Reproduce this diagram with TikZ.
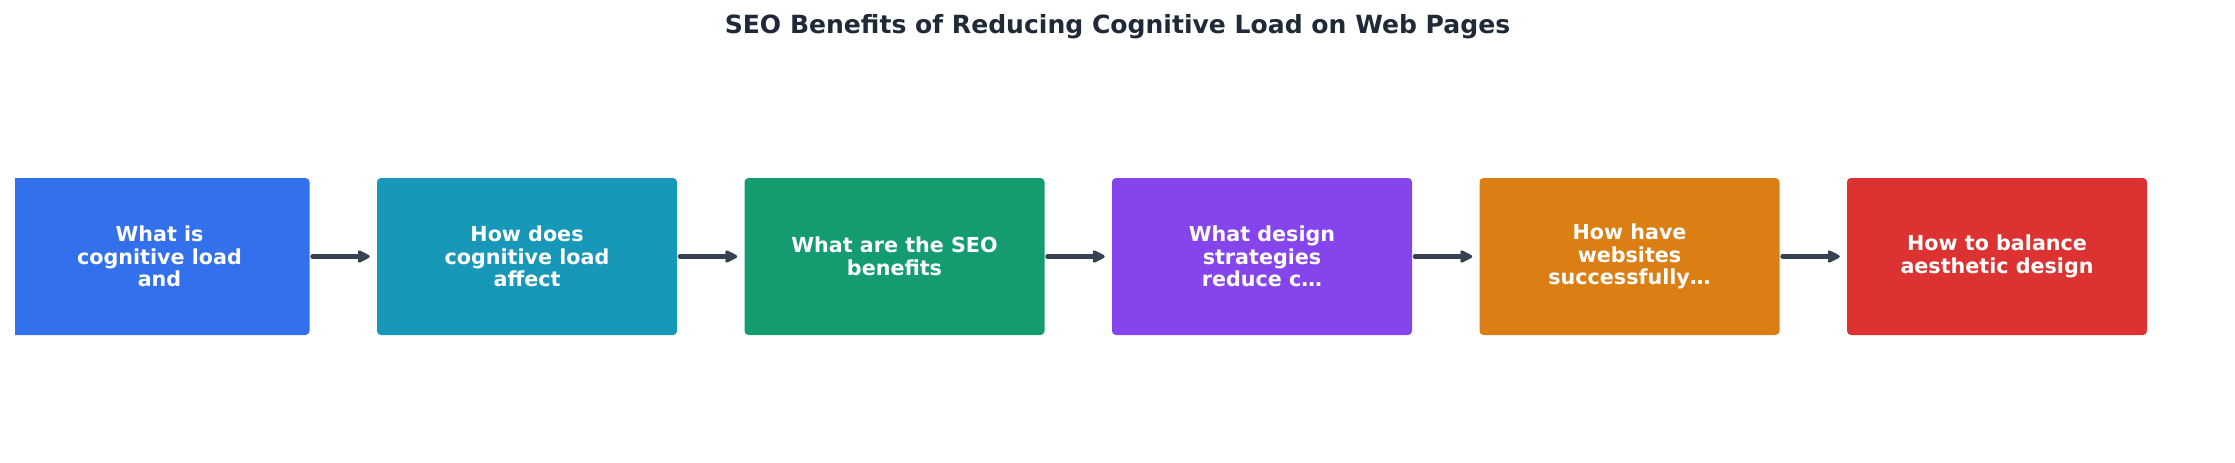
\documentclass[tikz,border=0pt]{standalone}
\usepackage{fontspec}
\setmainfont{DejaVu Sans}
\usetikzlibrary{arrows.meta,positioning}

\definecolor{qblue}{HTML}{3370EB}
\definecolor{qteal}{HTML}{1798B9}
\definecolor{qgreen}{HTML}{149C70}
\definecolor{qpurple}{HTML}{8645EC}
\definecolor{qorange}{HTML}{DB7E14}
\definecolor{qred}{HTML}{DC3232}
\definecolor{titlegray}{HTML}{1F2937}
\definecolor{arrowgray}{HTML}{374151}

\begin{document}
\begin{tikzpicture}[x=0.75pt,y=0.75pt,
  node distance=275.625pt,
  topic node/.style={rectangle,rounded corners=3pt,
  minimum width=225pt,minimum height=117.75pt,inner sep=0pt,
  text=white,align=center,font=\fontsize{15.5}{17}\selectfont\bfseries},
  flow/.style={-{Stealth[length=11pt,width=11pt,inset=1.5pt,round]},
  draw=arrowgray,line width=3.2pt,line cap=round,
  shorten <=2pt,shorten >=5.25pt}]

  \useasboundingbox (0,0) rectangle (2235,462);
  \clip (15,0) rectangle (2235,462);

  \node[font=\fontsize{18.8}{22}\selectfont\bfseries,text=titlegray,anchor=base]
    (title) at (1117.5,428.7) {SEO Benefits of Reducing Cognitive Load on Web Pages};

  \node[topic node,fill=qblue] (Q1) at (159.5,205.5) {What is\\cognitive load\\and};
  \node[topic node,fill=qteal] (Q2) [right of=Q1] {How does\\cognitive load\\affect};
  \node[topic node,fill=qgreen] (Q3) [right of=Q2] {What are the SEO\\benefits};
  \node[topic node,fill=qpurple] (Q4) [right of=Q3] {What design\\strategies\\reduce c…};
  \node[topic node,fill=qorange] (Q5) [right of=Q4] {How have\\websites\\successfully…};
  \node[topic node,fill=qred] (Q6) [right of=Q5] {How to balance\\aesthetic design};

  \path
    (Q1) edge[flow] (Q2)
    (Q2) edge[flow] (Q3)
    (Q3) edge[flow] (Q4)
    (Q4) edge[flow] (Q5)
    (Q5) edge[flow] (Q6);
\end{tikzpicture}
\end{document}
